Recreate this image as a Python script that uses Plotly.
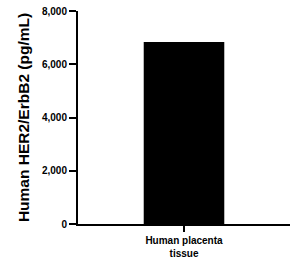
import plotly.graph_objects as go

categories = ["Human placenta<br>tissue"]
values = [6840]
y_tickvals = [0, 2000, 4000, 6000, 8000]
y_ticktext = ["0", "2,000", "4,000", "6,000", "8,000"]

FONT = "Liberation Sans, Arial, sans-serif"

fig = go.Figure()
fig.add_trace(go.Bar(
    x=[0], y=values, width=0.76,
    marker=dict(color="black", line=dict(width=0)),
))
fig.update_layout(
    width=292, height=262,
    margin=dict(l=78, r=2, t=11, b=38, autoexpand=False),
    paper_bgcolor="white", plot_bgcolor="white",
    showlegend=False,
    font=dict(family=FONT, color="black"),
)
fig.update_xaxes(
    range=[-1, 1], tickvals=[0], ticktext=categories,
    showline=True, linecolor="black", linewidth=2,
    ticks="outside", ticklen=6, tickwidth=1.5, tickcolor="black",
    tickfont=dict(size=10, family=FONT, weight="bold"),
    showgrid=False, zeroline=False, automargin=False,
)
fig.update_yaxes(
    range=[0, 8000], tickvals=y_tickvals, ticktext=y_ticktext,
    showline=True, linecolor="black", linewidth=2,
    ticks="outside", ticklen=7, tickwidth=1.5, tickcolor="black",
    tickfont=dict(size=10, family=FONT, weight="bold"),
    title=dict(text="Human HER2/ErbB2 (pg/mL)", standoff=9,
               font=dict(size=15.5, family=FONT, weight="bold")),
    showgrid=False, zeroline=False, automargin=False,
)
fig.write_html(
    "out.html",
    config={"displayModeBar": False},
    post_script="document.body.style.margin='0';document.body.style.overflow='hidden';",
)
